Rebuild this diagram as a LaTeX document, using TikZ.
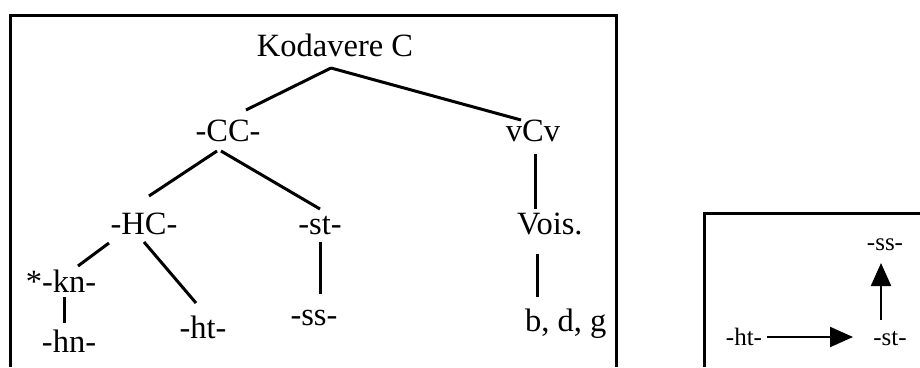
\documentclass[tikz,border=0pt]{standalone}
\usepackage{fontspec}
\setmainfont{Liberation Serif}
\usetikzlibrary{arrows.meta}
\begin{document}
\begin{tikzpicture}[x=1pt,y=-1pt,
  lbl/.style={font=\fontsize{32.5}{36}\selectfont, inner sep=0pt, anchor=base},
  sml/.style={font=\fontsize{25}{28}\selectfont, inner sep=0pt, anchor=base},
  frame/.style={line width=3pt},
  edge/.style={line width=3pt},
  arr/.style={line width=2.2pt, -{Triangle[length=23pt,width=20pt]}}]
\useasboundingbox (0,0) rectangle (920,367);
% frames
\draw[frame] (10,367) -- (10,15) -- (616,15) -- (616,367);
\draw[frame] (704,367) -- (704,213) -- (920,213);
% tree labels
\node[lbl] (kod) at (335,56) {Kodavere C};
\node[lbl] (cc) at (228,141) {-CC-};
\node[lbl] (vcv) at (533,141) {vCv};
\node[lbl] (hc) at (144,234) {-HC-};
\node[lbl] (st) at (320,234) {-st-};
\node[lbl,anchor=base west] (vois) at (517,234) {Vois.};
\node[lbl] (kn) at (61,292) {*-kn-};
\node[lbl] (hn) at (69,352) {-hn-};
\node[lbl] (ht) at (203,338) {-ht-};
\node[lbl] (ss) at (314,325) {-ss-};
\node[lbl,anchor=base west] (bdg) at (525,331) {b, d, g};
% line ends
\coordinate (kodB) at (331,68);
\coordinate (ccT) at (246,110);
\coordinate (vcvT) at (521,120);
\coordinate (ccBL) at (217,151);
\coordinate (ccBR) at (221,151);
\coordinate (hcT) at (149,196);
\coordinate (stT) at (320,209);
\coordinate (hcBL) at (109,243);
\coordinate (hcBR) at (144,242);
\coordinate (knT) at (78,266);
\coordinate (htT) at (196,303);
\coordinate (stB) at (320,242);
\coordinate (ssT) at (320,294);
\coordinate (vcvB) at (535,154);
\coordinate (voisT) at (535,209);
\coordinate (voisB) at (537,254);
\coordinate (bdgT) at (537,297);
\coordinate (knB) at (64,297);
\coordinate (hnT) at (64,323);
\draw[edge] (kodB) -- (ccT);
\draw[edge] (kodB) -- (vcvT);
\draw[edge] (ccBL) -- (hcT);
\draw[edge] (ccBR) -- (stT);
\draw[edge] (hcBL) -- (knT);
\draw[edge] (hcBR) -- (htT);
\draw[edge] (stB) -- (ssT);
\draw[edge] (vcvB) -- (voisT);
\draw[edge] (voisB) -- (bdgT);
\draw[edge] (knB) -- (hnT);
% right box
\node[sml] (ss2) at (885,250) {-ss-};
\node[sml] (ht2) at (744,345) {-ht-};
\node[sml] (st2) at (890,345) {-st-};
\coordinate (st2T) at (881,320);
\coordinate (ss2B) at (881,263);
\coordinate (ht2R) at (767,337);
\coordinate (st2L) at (853,337);
\draw[arr] (st2T) -- (ss2B);
\draw[arr] (ht2R) -- (st2L);
\end{tikzpicture}
\end{document}
